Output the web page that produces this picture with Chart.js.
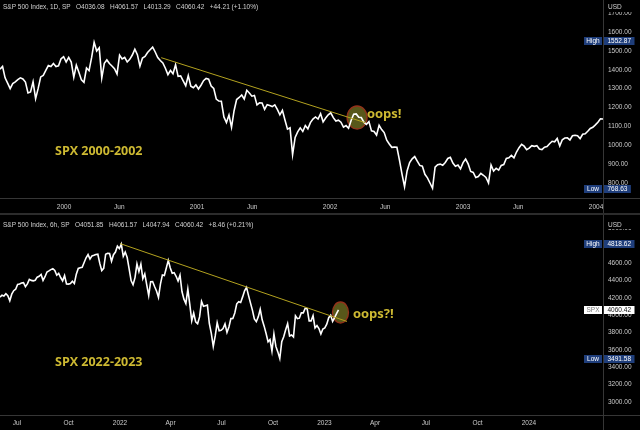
<!DOCTYPE html>
<html><head><meta charset="utf-8">
<script src="https://cdn.jsdelivr.net/npm/chart.js@4/dist/chart.umd.min.js"></script>
<style>
html,body{margin:0;padding:0;background:#000;width:640px;height:430px;overflow:hidden}
#topC{position:absolute;left:0;top:0}
#botC{position:absolute;left:0;top:215px}
#sep{position:absolute;left:0;top:213px;width:640px;height:2px;background:#2c2c2c}
</style></head><body>
<canvas id="topC" width="640" height="213"></canvas>
<div id="sep"></div>
<canvas id="botC" width="640" height="215"></canvas>
<script>
// ---------- TOP PANEL: S&P 500, weekly closes, Jul 1999 - Jan 2004 ----------
const topCloses = [
 1403,1418,1357,1329,1300,1327,1336,1348,1357,1351,1335,1277,1282,1336,1247,1301,1362,1370,1397,1422,1417,1433,1417,1421,1458,1469,
 1441,1465,1441,1360,1424,1387,1346,1333,1409,1395,1464,1545,1499,1516,1356,1434,1452,1433,1420,1406,1378,1477,1457,1465,1441,1455,
 1478,1509,1480,1419,1462,1471,1491,1506,1520,1494,1465,1449,1436,1408,1374,1396,1379,1426,1365,1367,1341,1315,1369,1313,1305,1320,
 1298,1318,1342,1354,1350,1314,1301,1245,1234,1233,1150,1120,1160,1095,1183,1242,1253,1266,1245,1291,1277,1260,1264,1214,1225,1224,
 1190,1215,1210,1205,1214,1190,1161,1185,1134,1085,1092,950,1041,1071,1092,1073,1104,1087,1120,1139,1150,1139,1167,1124,1144,1161,
 1172,1146,1128,1133,1122,1096,1104,1090,1131,1164,1166,1148,1147,1122,1111,1125,1076,1073,1054,1106,1083,1067,1027,1007,989,990,
 989,921,847,780,864,908,928,940,916,893,889,846,827,800,772,884,897,900,894,909,930,936,906,889,895,875,
 908,927,901,861,856,829,834,851,841,829,800,895,863,878,868,893,898,930,933,946,933,964,987,1005,995,976,
 985,998,994,998,980,977,990,993,1008,1021,1018,1036,996,1029,1038,1039,1028,1050,1053,1050,1035,1058,1061,1074,1089,1095,
 1108,1122,1140,1139
];
const topFirstDate = 1999.518;   // decimal year of first close
const topLastDate  = 2004.052;   // decimal year of last close
const topTickPos    = [2000, 2000.415, 2001, 2001.414, 2002, 2002.414, 2003, 2003.414, 2004];
const topTickLabels = ['2000','Jun','2001','Jun','2002','Jun','2003','Jun','2004'];
const topPriceTicks = [800, 900, 1000, 1100, 1200, 1300, 1400, 1500, 1600, 1700];
const topTrendDates = [2000.730, 2002.263];
const topTrendVals  = [1464, 1120];
const topOopsDate = 2002.203, topOopsVal = 1147;
const topHigh = 1552.87, topLow = 768.63;

// ---------- BOTTOM PANEL: S&P 500, closes ~twice a week, Jun 2021 - Jan 2023 ----------
const botCloses = [
 4208,4230,4220,4247,4223,4166,4241,4281,4298,
 4352,4358,4370,4374,4327,4359,4412,4400,4395,
 4402,4437,4447,4468,4400,4442,4496,4509,
 4524,4535,4514,4459,4480,4433,4395,4455,4359,
 4357,4363,4391,4364,4471,4537,4545,4551,4605,
 4660,4697,4646,4682,4688,4698,4701,4595,
 4513,4538,4701,4712,4709,4620,4696,4726,4793,4766,
 4818,4677,4726,4663,4533,4398,4350,4432,
 4589,4501,4587,4419,4475,4349,4226,4385,
 4387,4329,4278,4204,4357,4463,4456,4543,4631,
 4546,4481,4488,4447,4393,4460,4272,4184,4132,
 4300,4123,3935,4024,3923,3901,3979,4158,
 4101,4109,4116,3901,3790,3640,3760,3912,3819,
 3825,3845,3899,3801,3863,3960,3962,4024,4130,
 4155,4145,4210,4280,4320,4228,4141,4058,3955,
 3924,3980,4067,3946,3873,3789,3693,3719,3586,
 3783,3640,3577,3500,3695,3752,3831,3901,
 3760,3771,3749,3993,3959,3965,4027,4026,4080,
 4072,3934,3934,3995,3852,3879,3845,3783,3840,
 3853,3895,3970,3999,3928,3972,4016,4060
];
const botFirstDate = 2021.4132;
const botLastDate  = 2023.0685;
const botTickPos    = [2021.496, 2021.748, 2022, 2022.247, 2022.496, 2022.748, 2023, 2023.247, 2023.496, 2023.748, 2024];
const botTickLabels = ['Jul','Oct','2022','Apr','Jul','Oct','2023','Apr','Jul','Oct','2024'];
const botPriceTicks = [3000, 3200, 3400, 3600, 3800, 4000, 4200, 4400, 4600, 4800, 5000];
const botTrendDates = [2022.0, 2023.110];
const botTrendVals  = [4824, 3927];
const botOopsDate = 2023.0782, botOopsVal = 4030;
const botHigh = 4818.62, botLow = 3491.58, botLastPrice = 4060.42;

// ---------- styling / helpers ----------
Chart.defaults.font.family = '"Liberation Sans", Arial, sans-serif';
const AX = '#cbcbcb', LINE = '#363636', YEL = '#cdb932', BLUE = '#1f3e7b';

function series(vals, a, b) {
  const step = (b - a) / (vals.length - 1);
  return vals.map((v, i) => ({x: a + i * step, y: v}));
}

function tag(ctx, y, label, value, bg, labelColor, valueColor) {
  ctx.font = '6.5px "Liberation Sans", Arial, sans-serif';
  ctx.textBaseline = 'middle';
  const txt = value.toFixed(2);
  const w = ctx.measureText(txt).width + 7;
  ctx.fillStyle = bg;
  ctx.fillRect(584, Math.round(y) - 4, 18, 8);
  ctx.fillRect(604, Math.round(y) - 4, w, 8);
  ctx.fillStyle = labelColor; ctx.textAlign = 'center';
  ctx.fillText(label, 593, Math.round(y));
  ctx.fillStyle = valueColor; ctx.textAlign = 'left';
  ctx.fillText(txt, 607.5, Math.round(y));
}

const decor = {
  id: 'decor',
  beforeDatasetsDraw(chart, args, o) {
    const {ctx, scales: {x, y}} = chart;
    ctx.save();
    ctx.beginPath();
    ctx.ellipse(x.getPixelForValue(o.oops.date), y.getPixelForValue(o.oops.val), o.oops.rx, o.oops.ry, 0, 0, Math.PI * 2);
    ctx.fillStyle = '#58571a'; ctx.fill();
    ctx.lineWidth = 1.3; ctx.strokeStyle = '#93321b'; ctx.stroke();
    ctx.restore();
  },
  afterDraw(chart, args, o) {
    const {ctx, chartArea: ca, scales: {y}} = chart;
    const W = chart.width, H = chart.height;
    ctx.save();
    ctx.strokeStyle = LINE; ctx.lineWidth = 1;
    ctx.beginPath();
    ctx.moveTo(0, Math.round(ca.bottom) + 0.5); ctx.lineTo(W, Math.round(ca.bottom) + 0.5);
    ctx.moveTo(Math.round(ca.right) + 0.5, 0); ctx.lineTo(Math.round(ca.right) + 0.5, H);
    ctx.stroke();
    ctx.font = '6.5px "Liberation Sans", Arial, sans-serif';
    ctx.textBaseline = 'middle'; ctx.textAlign = 'left';
    ctx.fillStyle = '#d2d2d2';
    ctx.fillText(o.title, 3, o.titleY);
    ctx.fillStyle = '#000';
    ctx.fillRect(Math.round(ca.right) + 1, 0, W, o.usdCover);
    ctx.fillStyle = '#d2d2d2';
    ctx.fillText('USD', 608, o.titleY);
    tag(ctx, y.getPixelForValue(o.high), 'High', o.high, BLUE, '#fff', '#fff');
    tag(ctx, y.getPixelForValue(o.low), 'Low', o.low, BLUE, '#fff', '#fff');
    if (o.last) tag(ctx, y.getPixelForValue(o.last), 'SPX', o.last, '#fff', '#777', '#111');
    ctx.fillStyle = YEL;
    ctx.font = 'bold 12.5px "Open Sans", sans-serif';
    ctx.textBaseline = 'middle';
    ctx.fillText(o.caption, 55, o.captionY);
    ctx.font = 'bold 13px "Open Sans", sans-serif';
    ctx.textBaseline = 'alphabetic';
    ctx.fillText(o.oopsText, o.oopsX, o.oopsY);
    ctx.restore();
  }
};

function makeChart(id, cfg) {
  return new Chart(document.getElementById(id), {
    type: 'line',
    data: {
      datasets: [
        { data: cfg.trendDates.map((d, i) => ({x: d, y: cfg.trendVals[i]})),
          borderColor: '#b3a21f', borderWidth: 1, pointRadius: 0, tension: 0 },
        { data: series(cfg.closes, cfg.first, cfg.last),
          borderColor: '#ffffff', borderWidth: 1.6, pointRadius: 0, tension: 0 }
      ]
    },
    options: {
      responsive: false, animation: false, events: [],
      layout: { padding: 0 },
      plugins: { legend: {display: false}, tooltip: {enabled: false}, decor: cfg.decor },
      scales: {
        x: {
          type: 'linear', min: cfg.xMin, max: cfg.xMax,
          grid: {display: false, drawTicks: false}, border: {display: false},
          afterBuildTicks: s => { s.ticks = cfg.tickPos.map(v => ({value: v})); },
          afterFit: s => { s.height = cfg.xAxisH; s.paddingLeft = 0; s.paddingRight = 0; },
          ticks: { autoSkip: false, maxRotation: 0, padding: cfg.xPad, color: AX, font: {size: 6.5},
                   callback: (v, i) => cfg.tickLabels[i] }
        },
        y: {
          type: 'linear', position: 'right', min: cfg.yMin, max: cfg.yMax,
          grid: {display: false, drawTicks: false}, border: {display: false},
          afterBuildTicks: s => { s.ticks = cfg.priceTicks.map(v => ({value: v})); },
          afterFit: s => { s.width = 37; s.paddingTop = 0; s.paddingBottom = 0; },
          ticks: { padding: 5, color: AX, font: {size: 6.5}, callback: v => Number(v).toFixed(2) }
        }
      }
    },
    plugins: [decor]
  });
}

makeChart('topC', {
  closes: topCloses, first: topFirstDate, last: topLastDate,
  trendDates: topTrendDates, trendVals: topTrendVals,
  xMin: 1999.518, xMax: 2004.052, yMin: 720.5, yMax: 1769.5, xAxisH: 15, xPad: 5,
  tickPos: topTickPos, tickLabels: topTickLabels, priceTicks: topPriceTicks,
  decor: {
    title: 'S&P 500 Index, 1D, SP   O4036.08   H4061.57   L4013.29   C4060.42   +44.21 (+1.10%)',
    titleY: 7, usdCover: 12, high: topHigh, low: topLow, last: null,
    caption: 'SPX 2000-2002', captionY: 151,
    oops: {date: topOopsDate, val: topOopsVal, rx: 10, ry: 11.5},
    oopsText: 'oops!', oopsX: 367, oopsY: 117.5
  }
});

makeChart('botC', {
  closes: botCloses, first: botFirstDate, last: botLastDate,
  trendDates: botTrendDates, trendVals: botTrendVals,
  xMin: 2021.4132, xMax: 2024.362, yMin: 2850.4, yMax: 5152.5, xAxisH: 15, xPad: 4,
  tickPos: botTickPos, tickLabels: botTickLabels, priceTicks: botPriceTicks,
  decor: {
    title: 'S&P 500 Index, 6h, SP   O4051.85   H4061.57   L4047.94   C4060.42   +8.46 (+0.21%)',
    titleY: 10.5, usdCover: 14, high: botHigh, low: botLow, last: botLastPrice,
    caption: 'SPX 2022-2023', captionY: 147,
    oops: {date: botOopsDate, val: botOopsVal, rx: 8, ry: 10.5},
    oopsText: 'oops?!', oopsX: 353, oopsY: 102.7
  }
});
</script>
</body></html>
